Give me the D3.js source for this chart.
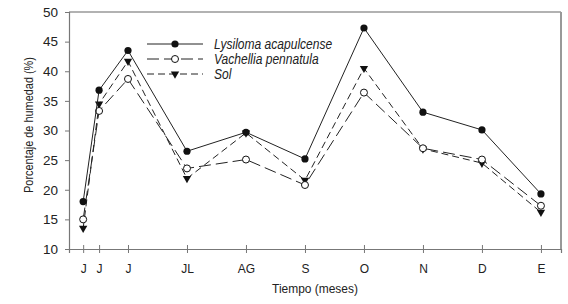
<!DOCTYPE html>
<html>
<head>
<meta charset="utf-8">
<script src="https://cdn.jsdelivr.net/npm/d3@7"></script>
<style>
  body { margin: 0; background: #fff; }
  text { font-family: "Liberation Sans", Arial, sans-serif; fill: #222; }
</style>
</head>
<body>
<script>
// sampling time, in months from the first June sample
const months = [0, 0.27, 0.76, 1.76, 2.76, 3.76, 4.76, 5.76, 6.76, 7.76];
const monthLabels = ["J", "J", "J", "JL", "AG", "S", "O", "N", "D", "E"];
const lysiloma = [18.0, 36.8, 43.5, 26.5, 29.7, 25.2, 47.3, 33.1, 30.1, 19.3];
const vachellia = [15.0, 33.3, 38.7, 23.6, 25.1, 20.8, 36.4, 27.0, 25.1, 17.3];
const sol = [13.5, 34.5, 41.7, 21.9, 29.6, 21.6, 40.5, 26.9, 24.5, 16.2];
const yTicks = [10, 15, 20, 25, 30, 35, 40, 45, 50];

const w = 568, h = 304;
const mLeft = 69, mRight = 561, mTop = 12, mBottom = 249;

const svg = d3.select("body").append("svg")
    .attr("width", w)
    .attr("height", h);

const x = d3.scaleLinear().domain([-0.24, 8.1]).range([mLeft, mRight]);
const y = d3.scaleLinear().domain([10, 50]).range([mBottom, mTop]);

// frame
svg.append("line").attr("x1", mLeft).attr("x2", mRight).attr("y1", mTop).attr("y2", mTop)
    .attr("stroke", "#999").attr("stroke-width", 1.5);
svg.append("line").attr("x1", mRight).attr("x2", mRight).attr("y1", mTop).attr("y2", mBottom)
    .attr("stroke", "#999").attr("stroke-width", 2);

// y axis
const yAxis = svg.append("g")
    .attr("transform", `translate(${mLeft},0)`)
    .call(d3.axisLeft(y).tickValues(yTicks).tickSize(4).tickPadding(7));
yAxis.select(".domain").attr("stroke", "#777").attr("stroke-width", 1.2);
yAxis.selectAll(".tick line").attr("stroke", "#777");
yAxis.selectAll("text").attr("font-size", 13.5).attr("fill", "#222")
    .attr("font-family", "Liberation Sans, Arial, sans-serif");

// x axis with ticks crossing the line
const xAxis = svg.append("g")
    .attr("transform", `translate(0,${mBottom})`)
    .call(d3.axisBottom(x).tickValues(months).tickFormat((d, i) => monthLabels[i])
        .tickSizeOuter(0).tickSize(4).tickPadding(11));
xAxis.select(".domain").attr("stroke", "#777").attr("stroke-width", 1.2);
xAxis.selectAll(".tick line").attr("stroke", "#777").attr("y1", -4);
xAxis.selectAll("text").attr("font-size", 12).attr("fill", "#222")
    .attr("font-family", "Liberation Sans, Arial, sans-serif");

// axis titles
svg.append("text")
    .attr("transform", `translate(${(mLeft + mRight) / 2},293) scale(0.92,1)`)
    .attr("text-anchor", "middle")
    .attr("font-size", 13)
    .text("Tiempo (meses)");

svg.append("text")
    .attr("transform", "translate(33,125) rotate(-90) scale(0.84,1)")
    .attr("text-anchor", "middle")
    .attr("font-size", 13)
    .text("Porcentaje de humedad (%)");

const series = [
    {name: "Sol", values: sol, dash: "7,4", marker: "tri"},
    {name: "Vachellia pennatula", values: vachellia, dash: "12,5", marker: "open"},
    {name: "Lysiloma acapulcense", values: lysiloma, dash: null, marker: "dot"}
];

const line = d3.line()
    .x((d, i) => x(months[i]))
    .y(d => y(d));

const tri = d3.symbol().type(d3.symbolTriangle).size(30);

function drawMarker(g, type, cx, cy) {
    if (type === "dot") {
        g.append("circle").attr("cx", cx).attr("cy", cy).attr("r", 3.6).attr("fill", "#111");
    } else if (type === "open") {
        g.append("circle").attr("cx", cx).attr("cy", cy).attr("r", 3.5)
            .attr("fill", "#fff").attr("stroke", "#111").attr("stroke-width", 1);
    } else {
        g.append("path").attr("d", tri)
            .attr("transform", `translate(${cx},${cy}) rotate(180)`)
            .attr("fill", "#111");
    }
}

series.forEach(function (s) {
    const g = svg.append("g");
    g.append("path")
        .datum(s.values)
        .attr("d", line)
        .attr("fill", "none")
        .attr("stroke", "#222")
        .attr("stroke-width", 1)
        .attr("stroke-dasharray", s.dash);
    s.values.forEach(function (v, i) {
        drawMarker(g, s.marker, x(months[i]), y(v));
    });
});

// legend
const legendRows = [series[2], series[1], series[0]];
legendRows.forEach(function (s, i) {
    const ly = 44 + i * 15;
    const g = svg.append("g");
    g.append("line")
        .attr("x1", 147).attr("x2", 203).attr("y1", ly).attr("y2", ly)
        .attr("stroke", "#222").attr("stroke-width", 1)
        .attr("stroke-dasharray", s.dash);
    drawMarker(g, s.marker, 175, ly);
    g.append("text")
        .attr("transform", `translate(214,${ly + 5}) scale(0.86,1)`)
        .attr("font-size", 14)
        .attr("font-style", "italic")
        .text(s.name);
});
</script>
</body>
</html>
